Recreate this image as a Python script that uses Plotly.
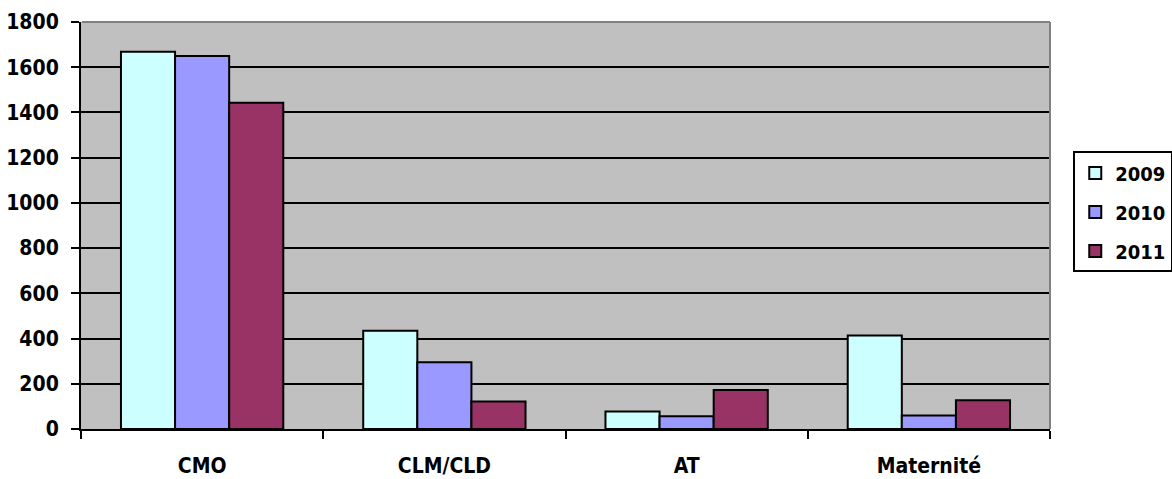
import plotly.graph_objects as go

categories = ["CMO", "CLM/CLD", "AT", "Maternité"]
years = ["2009", "2010", "2011"]
values_2009 = [1668, 435, 77, 414]
values_2010 = [1650, 295, 56, 60]
values_2011 = [1443, 122, 172, 127]
series_values = [values_2009, values_2010, values_2011]
colors = ["#CCFFFF", "#9999FF", "#993366"]
y_ticks = [0, 200, 400, 600, 800, 1000, 1200, 1400, 1600, 1800]

FONT = "DejaVu Sans Condensed, DejaVu Sans, sans-serif"

fig = go.Figure()
for name, vals, col in zip(years, series_values, colors):
    fig.add_trace(go.Bar(
        name=name, x=categories, y=vals, legendgroup=name,
        marker=dict(color=col, line=dict(color="black", width=2)),
    ))

fig.update_layout(
    width=1172, height=479,
    margin=dict(l=81, r=122, t=22, b=50, autoexpand=False),
    paper_bgcolor="white",
    plot_bgcolor="#C0C0C0",
    barmode="group",
    bargap=0.33,
    bargroupgap=0,
    font=dict(family=FONT, size=21, color="black"),
    legend=dict(
        x=1.024, y=0.682, xanchor="left", yanchor="top",
        bordercolor="black", borderwidth=2, bgcolor="white",
        font=dict(family=FONT, size=20, color="black", weight="bold"),
        traceorder="grouped", tracegroupgap=10,
    ),
    showlegend=True,
)
fig.update_xaxes(
    tickson="boundaries", ticks="outside", ticklen=8, tickwidth=2, tickcolor="black",
    showline=True, linecolor="black", linewidth=2,
    tickfont=dict(family=FONT, size=21, weight="bold"),
    showgrid=False, ticklabelstandoff=17,
)
fig.update_yaxes(
    range=[0, 1800], tickvals=y_ticks, ticks="outside", ticklen=8, tickwidth=2,
    tickcolor="black", showline=True, linecolor="black", linewidth=2,
    gridcolor="black", gridwidth=2, zeroline=False,
    tickfont=dict(family=FONT, size=21, weight="bold"),
    ticklabelstandoff=8,
)
# thin grey frame on the top and right sides of the plot area
fig.add_shape(type="line", xref="paper", yref="paper", x0=0.001, x1=1, y0=1, y1=1,
              line=dict(color="#808080", width=2), layer="above")
fig.add_shape(type="line", xref="paper", yref="paper", x0=1, x1=1, y0=0, y1=1,
              line=dict(color="#808080", width=2), layer="above")

fig.write_html("out.html")
